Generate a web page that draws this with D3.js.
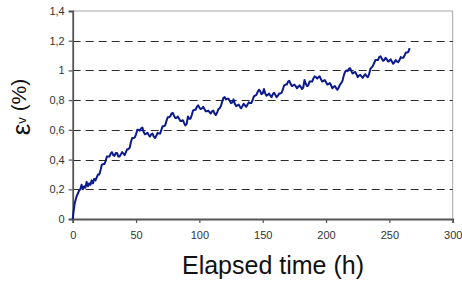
<!DOCTYPE html>
<html>
<head>
<meta charset="utf-8">
<script src="https://cdn.jsdelivr.net/npm/d3@7"></script>
<style>
  body { margin: 0; background: #fff; }
  svg { display: block; }
</style>
</head>
<body>
<script>
// elapsed time (h) and volumetric strain (%)
const hours = [0, 0.5, 1, 1.5, 2, 3, 4, 5, 6, 7, 8, 9, 10, 11, 12, 13, 14, 15, 16, 17, 18, 19, 20,
  21, 22, 23, 24, 25, 26, 27, 28, 29, 30,
  31, 32, 33, 34, 35, 36, 37, 38, 39, 40,
  41, 42, 43, 44, 45, 46, 47, 48, 49, 50,
  51, 52, 53, 54, 55, 56, 57, 58, 59, 60,
  61, 62, 63, 64, 65, 66, 67, 68, 69, 70,
  71, 72, 73, 74, 75, 76, 77, 78, 79, 80,
  81, 82, 83, 84, 85, 86, 87, 88, 89, 90,
  91, 92, 93, 94, 95, 96, 97, 98, 99, 100,
  101, 102, 103, 104, 105, 106, 107, 108, 109, 110,
  111, 112, 113, 114, 115, 116, 117, 118, 119, 120,
  121, 122, 123, 124, 125, 126, 127, 128, 129, 130,
  131, 132, 133, 134, 135, 136, 137, 138, 139, 140,
  141, 142, 143, 144, 145, 146, 147, 148, 149, 150,
  151, 152, 153, 154, 155, 156, 157, 158, 159, 160,
  161, 162, 163, 164, 165, 166, 167, 168, 169, 170,
  171, 172, 173, 174, 175, 176, 177, 178, 179, 180,
  181, 182, 183, 184, 185, 186, 187, 188, 189, 190,
  191, 192, 193, 194, 195, 196, 197, 198, 199, 200,
  201, 202, 203, 204, 205, 206, 207, 208, 209, 210,
  211, 212, 213, 214, 215, 216, 217, 218, 219, 220,
  221, 222, 223, 224, 225, 226, 227, 228, 229, 230,
  231, 232, 233, 234, 235, 236, 237, 238, 239, 240,
  241, 242, 243, 244, 245, 246, 247, 248, 249, 250,
  251, 252, 253, 254, 255, 256, 257, 258, 259, 260,
  261, 262, 263, 264, 265, 266];
const strain = [0, 0.04, 0.07, 0.1, 0.12, 0.15, 0.17, 0.19, 0.2, 0.23, 0.2, 0.22, 0.21, 0.25, 0.22, 0.24, 0.23, 0.26, 0.24, 0.27, 0.26, 0.28, 0.3,
  0.3, 0.33, 0.365, 0.37, 0.37, 0.39, 0.42, 0.42, 0.42, 0.44,
  0.45, 0.43, 0.425, 0.445, 0.445, 0.42, 0.42, 0.435, 0.45, 0.44,
  0.43, 0.45, 0.47, 0.47, 0.48, 0.52, 0.545, 0.545, 0.55, 0.57,
  0.6, 0.6, 0.595, 0.61, 0.615, 0.585, 0.57, 0.575, 0.58, 0.565,
  0.555, 0.57, 0.575, 0.555, 0.545, 0.56, 0.58, 0.575, 0.575, 0.6,
  0.625, 0.625, 0.63, 0.66, 0.685, 0.685, 0.69, 0.71, 0.715, 0.695,
  0.68, 0.68, 0.69, 0.675, 0.66, 0.66, 0.665, 0.645, 0.63, 0.64,
  0.69, 0.675, 0.675, 0.7, 0.73, 0.735, 0.735, 0.755, 0.765, 0.75,
  0.74, 0.745, 0.755, 0.74, 0.725, 0.725, 0.73, 0.72, 0.71, 0.725,
  0.73, 0.71, 0.7, 0.715, 0.74, 0.745, 0.76, 0.79, 0.815, 0.82,
  0.805, 0.81, 0.81, 0.795, 0.78, 0.785, 0.805, 0.775, 0.76, 0.765,
  0.77, 0.755, 0.745, 0.76, 0.775, 0.765, 0.755, 0.77, 0.785, 0.78,
  0.78, 0.8, 0.825, 0.83, 0.835, 0.855, 0.87, 0.86, 0.84, 0.845,
  0.875, 0.845, 0.83, 0.835, 0.845, 0.83, 0.82, 0.84, 0.85, 0.835,
  0.82, 0.83, 0.845, 0.845, 0.85, 0.875, 0.9, 0.905, 0.905, 0.925,
  0.93, 0.91, 0.895, 0.9, 0.905, 0.895, 0.88, 0.89, 0.9, 0.89,
  0.875, 0.885, 0.935, 0.91, 0.895, 0.9, 0.925, 0.925, 0.925, 0.945,
  0.96, 0.955, 0.945, 0.955, 0.96, 0.94, 0.925, 0.93, 0.935, 0.92,
  0.905, 0.91, 0.915, 0.9, 0.88, 0.89, 0.895, 0.88, 0.87, 0.885,
  0.905, 0.915, 0.93, 0.965, 0.99, 1.0, 0.995, 1.01, 1.015, 0.995,
  0.98, 0.985, 0.99, 0.975, 0.955, 0.965, 0.97, 0.96, 0.95, 0.965,
  0.975, 0.96, 0.955, 0.975, 1.01, 1.02, 1.03, 1.05, 1.07, 1.07,
  1.07, 1.09, 1.095, 1.08, 1.065, 1.07, 1.085, 1.075, 1.06, 1.065,
  1.075, 1.06, 1.045, 1.055, 1.07, 1.06, 1.055, 1.07, 1.09, 1.085,
  1.085, 1.1, 1.12, 1.12, 1.125, 1.15];

const xTicks = [0, 50, 100, 150, 200, 250, 300];
const yTicks = [0, 0.2, 0.4, 0.6, 0.8, 1, 1.2, 1.4];
const gridTicks = [0.2, 0.4, 0.6, 0.8, 1, 1.2];

const width = 462;
const height = 284;
const plotLeft = 72.7, plotRight = 452.7, plotTop = 11, plotBottom = 219;

const svg = d3.select("body").append("svg")
  .attr("width", width)
  .attr("height", height)
  .style("font-family", "'Liberation Sans', Arial, sans-serif");

const x = d3.scaleLinear().domain([0, 300]).range([plotLeft, plotRight]);
const y = d3.scaleLinear().domain([0, 1.4]).range([plotBottom, plotTop]);

// light frame on top and right
svg.append("path")
  .attr("d", `M${plotLeft},${plotTop}H${plotRight}V${plotBottom}`)
  .attr("fill", "none")
  .attr("stroke", "#a6a6a6")
  .attr("stroke-width", 1);

// dashed gridlines
svg.append("g").selectAll("line")
  .data(gridTicks)
  .join("line")
  .attr("x1", plotLeft)
  .attr("x2", plotRight)
  .attr("y1", d => Math.round(y(d)) + 0.5)
  .attr("y2", d => Math.round(y(d)) + 0.5)
  .attr("stroke", "#2b2b2b")
  .attr("stroke-width", 1)
  .attr("stroke-dasharray", "8,5");

const fmt = d => String(d).replace(".", ",");

const yAxis = svg.append("g")
  .attr("transform", `translate(${plotLeft},0)`)
  .call(d3.axisLeft(y).tickValues(yTicks).tickFormat(fmt).tickSize(4).tickPadding(4));

const xAxis = svg.append("g")
  .attr("transform", `translate(0,${plotBottom})`)
  .call(d3.axisBottom(x).tickValues(xTicks).tickSize(4).tickPadding(8));

[xAxis, yAxis].forEach(a => {
  a.select(".domain").attr("stroke", "#555").attr("stroke-width", 1.8);
  a.selectAll(".tick line").attr("stroke", "#555").attr("stroke-width", 1.2);
  a.selectAll(".tick text").attr("fill", "#333").style("font-size", "11px");
});

// the strain curve
const line = d3.line()
  .x((d, i) => x(hours[i]))
  .y(d => y(d));

svg.append("path")
  .datum(strain)
  .attr("d", line)
  .attr("fill", "none")
  .attr("stroke", "#0c1a8e")
  .attr("stroke-width", 2)
  .attr("stroke-linejoin", "round");

// axis titles
svg.append("text")
  .attr("x", 273)
  .attr("y", 274)
  .attr("text-anchor", "middle")
  .style("font-size", "25px")
  .attr("fill", "#111")
  .text("Elapsed time (h)");

const yTitle = svg.append("text")
  .attr("transform", "translate(25.5,107) rotate(-90)")
  .attr("text-anchor", "middle")
  .attr("fill", "#111");
yTitle.append("tspan").style("font-size", "26px").attr("dy", 4).text("ε");
yTitle.append("tspan").style("font-size", "13px").attr("dy", -4).text("v");
yTitle.append("tspan").style("font-size", "21px").attr("dy", 0).text(" (%)");
</script>
</body>
</html>
